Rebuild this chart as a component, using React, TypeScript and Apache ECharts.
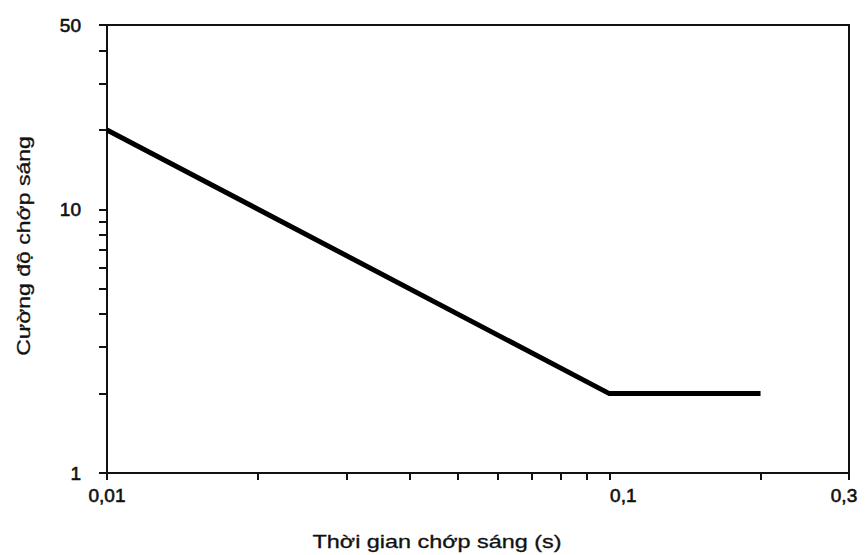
import React, { useEffect, useRef } from "react";
import * as echarts from "echarts";

// Flash duration (s) vs. flash intensity, log–log
const flashTime = [0.01, 0.1, 0.2];
const flashIntensity = [20, 2, 2];

// Tick positions and labelled values on each axis
const xTickValues = [0.01, 0.02, 0.03, 0.04, 0.05, 0.06, 0.07, 0.08, 0.09, 0.1, 0.2, 0.3];
const xLabelValues = [0.01, 0.1, 0.3];
const yTickValues = [1, 2, 3, 4, 5, 6, 7, 8, 9, 10, 20, 30, 40, 50];
const yLabelValues = [1, 10, 50];

const xTitle = "Thời gian chớp sáng (s)";
const yTitle = "Cường độ chớp sáng";

const FONT = "'Liberation Sans', Arial, sans-serif";
const INK = "#111";
// thin outline in the text colour gives the labels a slightly heavier weight
const heavy = { textBorderColor: INK, textBorderWidth: 0.6 };

const toComma = (v: number) => String(v).replace(".", ",");

export default function App() {
  const ref = useRef<HTMLDivElement>(null);

  useEffect(() => {
    if (!ref.current) return;
    const chart = echarts.init(ref.current, null, { renderer: "svg" });

    const labelText = { fontFamily: FONT, fontSize: 19, color: INK, ...heavy };

    chart.setOption({
      animation: false,
      backgroundColor: "#fff",
      grid: {
        left: 107,
        right: 17,
        top: 25,
        bottom: 82,
        containLabel: false,
        outerBoundsMode: "none",
        show: true,
        borderColor: INK,
        borderWidth: 2,
        backgroundColor: "transparent",
      },
      xAxis: {
        type: "log",
        logBase: 10,
        min: 0.01,
        max: 0.3,
        axisLine: { show: true, lineStyle: { color: INK, width: 2 } },
        axisTick: {
          show: true,
          inside: false,
          length: 7,
          lineStyle: { color: INK, width: 2 },
          customValues: xTickValues,
        },
        axisLabel: {
          show: true,
          margin: 13,
          customValues: xLabelValues,
          ...labelText,
          formatter: (v: number) => {
            const s = toComma(v);
            if (Math.abs(v - 0.1) < 1e-9) return `{r|${s}}`;
            if (Math.abs(v - 0.3) < 1e-9) return `{l|${s}}`;
            return `{c|${s}}`;
          },
          rich: {
            c: { ...labelText },
            r: { ...labelText, padding: [0, 0, 0, 28] },
            l: { ...labelText, padding: [0, 10, 0, 0] },
          },
        },
        splitLine: { show: false },
        minorTick: { show: false },
      },
      yAxis: {
        type: "log",
        logBase: 10,
        min: 1,
        max: 50,
        axisLine: { show: true, lineStyle: { color: INK, width: 2 } },
        axisTick: {
          show: true,
          inside: false,
          length: 8,
          lineStyle: { color: INK, width: 2 },
          customValues: yTickValues,
        },
        axisLabel: {
          show: true,
          margin: 26,
          customValues: yLabelValues,
          ...labelText,
          padding: [0, 0, 12, 0],
          formatter: (v: number) => toComma(v),
        },
        splitLine: { show: false },
        minorTick: { show: false },
      },
      graphic: [
        {
          type: "text",
          x: 437,
          y: 542,
          scaleX: 1.3,
          style: {
            text: xTitle,
            fontFamily: FONT,
            fontSize: 18,
            fill: INK,
            stroke: INK,
            lineWidth: 0.3,
            align: "center",
            verticalAlign: "middle",
          },
        },
        {
          type: "text",
          x: 23,
          y: 246,
          rotation: Math.PI / 2,
          scaleX: 1.28,
          style: {
            text: yTitle,
            fontFamily: FONT,
            fontSize: 18,
            fill: INK,
            stroke: INK,
            lineWidth: 0.3,
            align: "center",
            verticalAlign: "middle",
          },
        },
      ],
      series: [
        {
          type: "line",
          data: flashTime.map((t, i) => [t, flashIntensity[i]]),
          symbol: "none",
          lineStyle: { color: "#000", width: 5, join: "miter" },
          silent: true,
        },
      ],
    });

    return () => chart.dispose();
  }, []);

  return (
    <div
      ref={ref}
      style={{ position: "fixed", left: 0, top: 0, width: 866, height: 555, background: "#fff" }}
    />
  );
}
